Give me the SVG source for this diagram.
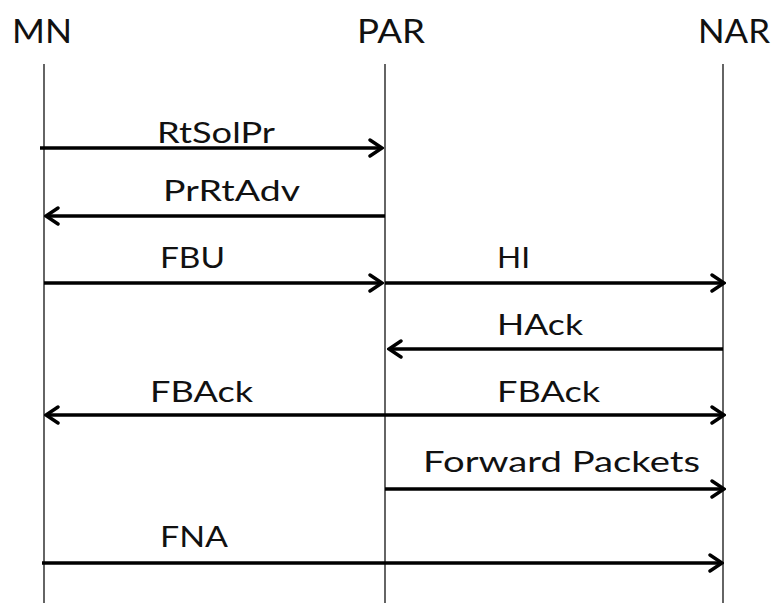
<svg xmlns="http://www.w3.org/2000/svg" width="776" height="603" viewBox="0 0 776 603">
<style>
text{font-family:Lato,"Open Sans","Liberation Sans",sans-serif;fill:#111;}
.h{font-size:33px;}
.l{font-size:28px;}
.life{stroke:#111;stroke-width:1.3;fill:none;}
.msg{stroke:#000;stroke-width:3.6;fill:none;}
</style>
<defs>
<marker id="ah" viewBox="-14 -10 16 20" refX="0" refY="0" markerWidth="16" markerHeight="20" markerUnits="userSpaceOnUse" orient="auto-start-reverse">
<path d="M-12,-8 L0,0 L-12,8" fill="none" stroke="#000" stroke-width="3.4" stroke-linecap="round" stroke-linejoin="miter"/>
</marker>
</defs>
<rect width="776" height="603" fill="#fff"/>
<g id="MN"><text class="h" x="12" y="43" textLength="60" lengthAdjust="spacingAndGlyphs">MN</text><line class="life" x1="44" y1="64" x2="44" y2="603"/></g>
<g id="PAR"><text class="h" x="357" y="43" textLength="68" lengthAdjust="spacingAndGlyphs">PAR</text><line class="life" x1="385" y1="64" x2="385" y2="603"/></g>
<g id="NAR"><text class="h" x="698" y="43" textLength="72" lengthAdjust="spacingAndGlyphs">NAR</text><line class="life" x1="723" y1="64" x2="723" y2="603"/></g>
<g id="connectors">
<line class="msg" x1="40" y1="148" x2="382" y2="148" marker-end="url(#ah)"/>
<line class="msg" x1="385" y1="216" x2="46" y2="216" marker-end="url(#ah)"/>
<line class="msg" x1="44" y1="283" x2="382" y2="283" marker-end="url(#ah)"/>
<line class="msg" x1="385" y1="283" x2="724" y2="283" marker-end="url(#ah)"/>
<line class="msg" x1="723" y1="349" x2="389" y2="349" marker-end="url(#ah)"/>
<line class="msg" x1="46" y1="415" x2="724" y2="415" marker-start="url(#ah)" marker-end="url(#ah)"/>
<line class="msg" x1="385" y1="489" x2="724" y2="489" marker-end="url(#ah)"/>
<line class="msg" x1="42" y1="563" x2="722" y2="563" marker-end="url(#ah)"/>
</g>
<g id="labels">
<text class="l" x="157" y="143" textLength="118" lengthAdjust="spacingAndGlyphs">RtSolPr</text>
<text class="l" x="163" y="201" textLength="137" lengthAdjust="spacingAndGlyphs">PrRtAdv</text>
<text class="l" x="160" y="268" textLength="65" lengthAdjust="spacingAndGlyphs">FBU</text>
<text class="l" x="497" y="268" textLength="33" lengthAdjust="spacingAndGlyphs">HI</text>
<text class="l" x="497" y="335" textLength="86" lengthAdjust="spacingAndGlyphs">HAck</text>
<text class="l" x="150" y="402" textLength="103" lengthAdjust="spacingAndGlyphs">FBAck</text>
<text class="l" x="497" y="402" textLength="103" lengthAdjust="spacingAndGlyphs">FBAck</text>
<text class="l" x="423" y="472" textLength="277" lengthAdjust="spacingAndGlyphs">Forward Packets</text>
<text class="l" x="160" y="547" textLength="68" lengthAdjust="spacingAndGlyphs">FNA</text>
</g>
</svg>
